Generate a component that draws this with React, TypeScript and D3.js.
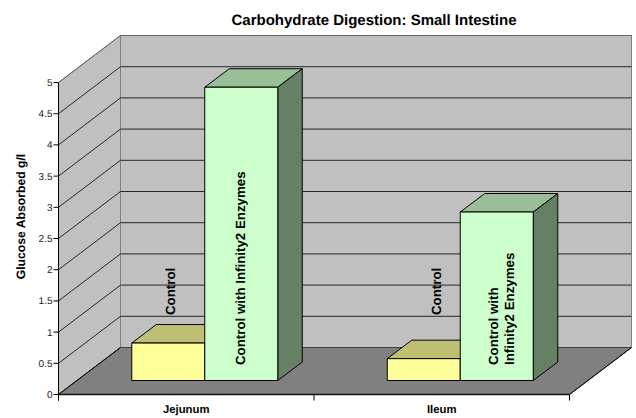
import React from "react";
import * as d3 from "d3";

const title = "Carbohydrate Digestion: Small Intestine";
const yAxisTitle = "Glucose Absorbed g/l";
const categories = ["Jejunum", "Ileum"];
const seriesNames = ["Control", "Control with Infinity2 Enzymes"];
const controlValues = [0.6, 0.35];
const enzymeValues = [4.7, 2.7];
const yTicks = [0, 0.5, 1, 1.5, 2, 2.5, 3, 3.5, 4, 4.5, 5];
const enzymeLabelLines = [["Control with Infinity2 Enzymes"], ["Control with", "Infinity2 Enzymes"]];

const W = 636, H = 418;
const FONT = "'Liberation Sans', Arial, sans-serif";
const DX = 62, DY = 47;
const x = d3.scaleBand<string>().domain(categories).range([58.5, 569.5]);
const y = d3.scaleLinear().domain([0, 5]).range([394.5, 82.5]);
const barW = 73;
const offX = 18.5, offY = 14, depthX = 24.5, depthY = 18.5;
const controlLabelBaseX = [175, 441];
const enzymeLabelBaseX = [[245], [498, 514]];

const pts = (p: number[][]) => p.map((q) => q.join(",")).join(" ");

function Bar3D({ left, value, front, top, side }: { left: number; value: number; front: string; top: string; side: string }) {
  const base = y(0) - offY;
  const h = y(0) - y(value);
  const t = base - h;
  const r = left + barW;
  return (
    <g stroke="#000" strokeWidth={1} strokeLinejoin="round">
      <polygon points={pts([[left, t], [r, t], [r + depthX, t - depthY], [left + depthX, t - depthY]])} fill={top} />
      <polygon points={pts([[r, t], [r + depthX, t - depthY], [r + depthX, base - depthY], [r, base]])} fill={side} />
      <rect x={left} y={t} width={barW} height={h} fill={front} />
    </g>
  );
}

export default function App() {
  const x0 = 58.5, x1 = 569.5, y0 = y(0), yT = y(5);
  return (
    <svg width={W} height={H} style={{ position: "fixed", left: 0, top: 0, background: "#fff" }} fontFamily={FONT} textRendering="geometricPrecision">
      <polygon points={pts([[x0, y0], [x0 + DX, y0 - DY], [x0 + DX, yT - DY], [x0, yT]])} fill="#c0c0c0" stroke="#808080" />
      <rect x={x0 + DX} y={yT - DY} width={x1 - x0} height={y0 - yT} fill="#c0c0c0" stroke="#808080" />
      <polygon points={pts([[x0, y0], [x1, y0], [x1 + DX, y0 - DY], [x0 + DX, y0 - DY]])} fill="#808080" stroke="#404040" />
      {yTicks.slice(1).map((t) => (
        <polyline key={t} fill="none" strokeWidth={1} points={pts([[x0, y(t)], [x0 + DX, y(t) - DY], [x1 + DX, y(t) - DY]])} stroke={t === 5 ? "#666" : "#262626"} />
      ))}
      <line x1={x0} x2={x0 + DX} y1={y0} y2={y0 - DY} stroke="#000" />
      <line x1={x1} x2={x1 + DX} y1={y0} y2={y0 - DY} stroke="#000" />
      <line x1={x0} x2={x0} y1={yT} y2={y0 + 6} stroke="#000" />
      <line x1={x0} x2={x1} y1={y0} y2={y0} stroke="#111" strokeWidth={1.5} />
      {yTicks.map((t) => (
        <g key={t}>
          <line x1={x0 - 5} x2={x0} y1={y(t)} y2={y(t)} stroke="#000" />
          <text x={x0 - 6} y={y(t) + 3.5} textAnchor="end" fontSize={10} fill="#222">{t}</text>
        </g>
      ))}
      {[...categories.map((c) => x(c)!), x1].map((v, i) => (
        <line key={i} x1={v} x2={v} y1={y0} y2={y0 + 6} stroke="#000" />
      ))}
      {categories.map((c, i) => {
        const mid = x(c)! + x.bandwidth() / 2 + offX;
        return (
          <g key={c}>
            <Bar3D left={mid - barW} value={controlValues[i]} front="#ffff99" top="#bfbf73" side="#80804d" />
            <Bar3D left={mid} value={enzymeValues[i]} front="#ccffcc" top="#99bf99" side="#668066" />
            <text transform={`translate(${controlLabelBaseX[i]},315) rotate(-90)`} fontSize={13.3} fontWeight="bold" fill="#000">{seriesNames[0]}</text>
            {enzymeLabelLines[i].map((line, k) => (
              <text key={k} transform={`translate(${enzymeLabelBaseX[i][k]},365) rotate(-90)`} fontSize={13.3} fontWeight="bold" fill="#000">{line}</text>
            ))}
            <text x={x(c)! + x.bandwidth() / 2} y={413} textAnchor="middle" fontSize={11.3} fontWeight="bold" fill="#000">{c}</text>
          </g>
        );
      })}
      <text x={374} y={25} textAnchor="middle" fontSize={15} fontWeight="bold" fill="#000">{title}</text>
      <text transform="translate(24.5,216.5) rotate(-90)" textAnchor="middle" fontSize={12.2} fontWeight="bold" fill="#000">{yAxisTitle}</text>
    </svg>
  );
}
